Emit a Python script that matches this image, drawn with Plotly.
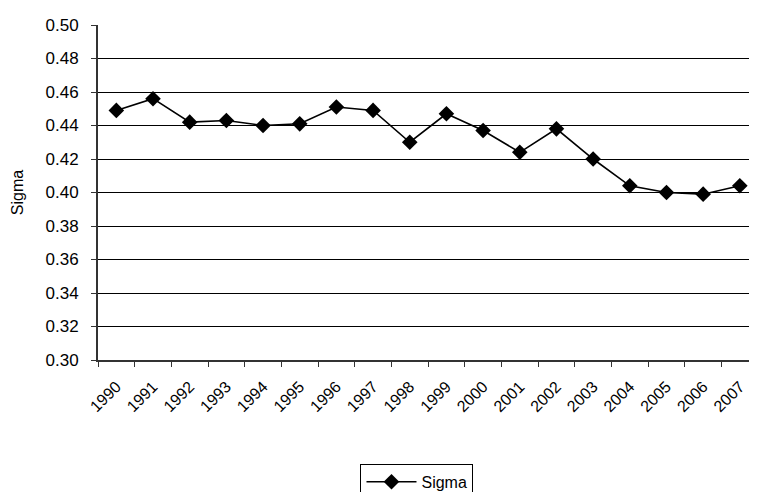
import plotly.graph_objects as go

years = [str(y) for y in range(1990, 2008)]
sigma = [0.449, 0.456, 0.442, 0.443, 0.440, 0.441, 0.451, 0.449, 0.430,
         0.447, 0.437, 0.424, 0.438, 0.420, 0.404, 0.400, 0.399, 0.404]
y_ticks = [0.30, 0.32, 0.34, 0.36, 0.38, 0.40, 0.42, 0.44, 0.46, 0.48, 0.50]

fig = go.Figure()
fig.add_trace(go.Scatter(
    x=years, y=sigma, name="Sigma", mode="lines+markers",
    line=dict(color="black", width=1.6),
    marker=dict(symbol="diamond", size=12, color="black"),
    cliponaxis=False,
))

font = "Liberation Sans, Arial, sans-serif"
fs = 16
fig.update_layout(
    width=741, height=484,
    margin=dict(l=90, r=0, t=17, b=132, autoexpand=False),
    paper_bgcolor="white", plot_bgcolor="white",
    font=dict(family=font, size=fs, color="black"),
    showlegend=True,
    legend=dict(
        x=0.49, y=-0.31, xanchor="center", yanchor="top",
        bordercolor="black", borderwidth=1, bgcolor="white",
        itemwidth=50,
        font=dict(family=font, size=fs, color="black"),
    ),
)
fig.update_xaxes(
    type="category", range=[-0.5, 17.25],
    tickmode="array", tickvals=years, ticktext=years,
    tickson="boundaries", ticks="outside", ticklen=5, tickcolor="#333",
    showline=True, linecolor="#333", linewidth=2,
    showgrid=False, tickangle=-45, automargin=False,
    ticklabelstandoff=9,
    tickfont=dict(family=font, size=16),
)
fig.update_yaxes(
    range=[0.30, 0.50], tickvals=y_ticks, tickformat=".2f",
    ticks="outside", ticklen=5, tickcolor="#333",
    showline=True, linecolor="#333", linewidth=2,
    showgrid=True, gridcolor="black", gridwidth=1, automargin=False,
    ticklabelstandoff=9,
    title=dict(text="Sigma", font=dict(family=font, size=fs), standoff=18),
    tickfont=dict(family=font, size=17),
    zeroline=False,
)
fig.write_html("out.html")
